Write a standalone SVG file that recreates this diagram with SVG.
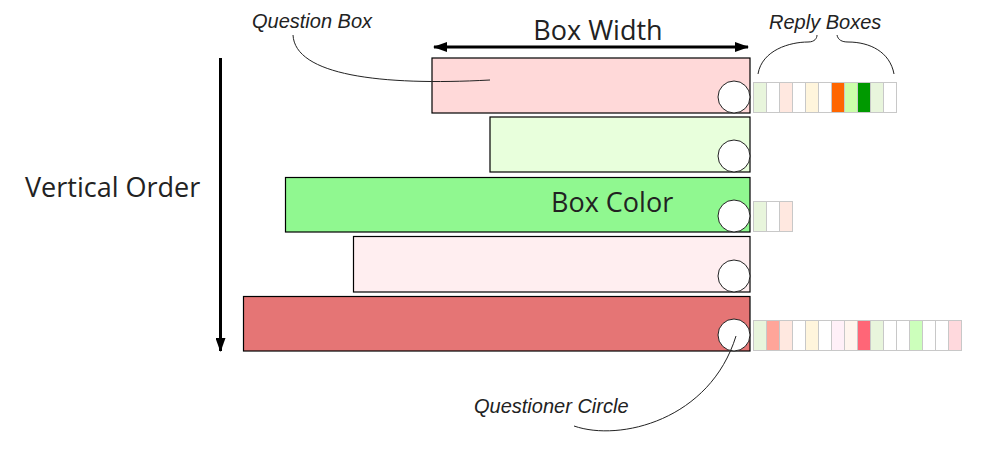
<svg xmlns="http://www.w3.org/2000/svg" width="990" height="460" viewBox="0 0 990 460">
<defs>
<style>
.qbox{stroke:#000;stroke-width:1.2}
.circ{fill:#fff;stroke:#222;stroke-width:1}
.rb{stroke:#c8c8c8;stroke-width:1}
.big{font-family:"Open Sans","Noto Sans",sans-serif;font-size:27px;fill:#222}
.lab{font-family:"Liberation Sans",Arial,sans-serif;font-style:italic;font-size:20px;fill:#222}
.lead{fill:none;stroke:#222;stroke-width:1}
.arr{fill:none;stroke:#000;stroke-width:3}
</style>
<marker id="ah" viewBox="0 0 14 10" refX="13" refY="5" markerWidth="14" markerHeight="10" markerUnits="userSpaceOnUse" orient="auto-start-reverse">
<path d="M0,0 L14,5 L0,10 Z" fill="#000"/>
</marker>
</defs>
<rect width="990" height="460" fill="#fff"/>

<g id="box1">
<rect class="qbox" x="432" y="58" width="318" height="55" fill="#ffd9d9"/>
<circle class="circ" cx="734" cy="97" r="16"/>
</g>
<g id="box2">
<rect class="qbox" x="490" y="117" width="260" height="55" fill="#e8ffdc"/>
<circle class="circ" cx="734" cy="156" r="16"/>
</g>
<g id="box3">
<rect class="qbox" x="285.5" y="177.5" width="464.5" height="54.5" fill="#90f890"/>
<circle class="circ" cx="734" cy="216" r="16"/>
<text class="big" x="551" y="212">Box Color</text>
</g>
<g id="box4">
<rect class="qbox" x="353.5" y="236.5" width="396.5" height="55.5" fill="#ffeef0"/>
<circle class="circ" cx="734" cy="276" r="16"/>
</g>
<g id="box5">
<rect class="qbox" x="243.5" y="296.5" width="506.5" height="54.5" fill="#e57575"/>
<circle class="circ" cx="734" cy="335" r="16"/>
</g>

<g id="replies1">
<rect class="rb" x="753.5" y="82.5" width="13" height="30" fill="#e8f5dc"/>
<rect class="rb" x="766.5" y="82.5" width="13" height="30" fill="#fff"/>
<rect class="rb" x="779.5" y="82.5" width="13" height="30" fill="#ffe8e0"/>
<rect class="rb" x="792.5" y="82.5" width="13" height="30" fill="#fff"/>
<rect class="rb" x="805.5" y="82.5" width="13" height="30" fill="#fff5dc"/>
<rect class="rb" x="818.5" y="82.5" width="13" height="30" fill="#fff"/>
<rect class="rb" x="831.5" y="82.5" width="13" height="30" fill="#ff6600"/>
<rect class="rb" x="844.5" y="82.5" width="13" height="30" fill="#ccffaa"/>
<rect class="rb" x="857.5" y="82.5" width="13" height="30" fill="#009900"/>
<rect class="rb" x="870.5" y="82.5" width="13" height="30" fill="#e8f5dc"/>
<rect class="rb" x="883.5" y="82.5" width="13" height="30" fill="#fff"/>
</g>
<g id="replies3">
<rect class="rb" x="753.5" y="201.5" width="13" height="30" fill="#e8f5dc"/>
<rect class="rb" x="766.5" y="201.5" width="13" height="30" fill="#fff"/>
<rect class="rb" x="779.5" y="201.5" width="13" height="30" fill="#ffe8e0"/>
</g>
<g id="replies5">
<rect class="rb" x="753.5" y="320.5" width="13" height="30" fill="#e8f5dc"/>
<rect class="rb" x="766.5" y="320.5" width="13" height="30" fill="#ffa599"/>
<rect class="rb" x="779.5" y="320.5" width="13" height="30" fill="#ffe8e0"/>
<rect class="rb" x="792.5" y="320.5" width="13" height="30" fill="#fff"/>
<rect class="rb" x="805.5" y="320.5" width="13" height="30" fill="#fff5dc"/>
<rect class="rb" x="818.5" y="320.5" width="13" height="30" fill="#fff"/>
<rect class="rb" x="831.5" y="320.5" width="13" height="30" fill="#fff0f8"/>
<rect class="rb" x="844.5" y="320.5" width="13" height="30" fill="#fff5ee"/>
<rect class="rb" x="857.5" y="320.5" width="13" height="30" fill="#ff6677"/>
<rect class="rb" x="870.5" y="320.5" width="13" height="30" fill="#e8f5dc"/>
<rect class="rb" x="883.5" y="320.5" width="13" height="30" fill="#fff"/>
<rect class="rb" x="896.5" y="320.5" width="13" height="30" fill="#fff"/>
<rect class="rb" x="909.5" y="320.5" width="13" height="30" fill="#ccffbb"/>
<rect class="rb" x="922.5" y="320.5" width="13" height="30" fill="#fff"/>
<rect class="rb" x="935.5" y="320.5" width="13" height="30" fill="#fff"/>
<rect class="rb" x="948.5" y="320.5" width="13" height="30" fill="#ffd9dd"/>
</g>

<g id="connectors">
<line class="arr" x1="434" y1="47" x2="748" y2="47" marker-start="url(#ah)" marker-end="url(#ah)"/>
<line class="arr" x1="220.5" y1="58" x2="220.5" y2="351" marker-end="url(#ah)"/>
<path class="lead" d="M293,35 C295,75 380,86 490,80"/>
<path class="lead" d="M758,74 C762,50 790,42 808,42 C815,42 817,38 817,35"/>
<path class="lead" d="M837,35 C838,40 842,42 848,42 C870,42 890,52 894,74"/>
<path class="lead" d="M574,426 C620,442 710,420 736,336"/>
</g>

<g id="labels">
<text class="big" x="598" y="40" text-anchor="middle">Box Width</text>
<text class="big" x="25" y="197">Vertical Order</text>
<text class="lab" x="252" y="28">Question Box</text>
<text class="lab" x="769" y="29">Reply Boxes</text>
<text class="lab" x="474" y="413">Questioner Circle</text>
</g>
</svg>
